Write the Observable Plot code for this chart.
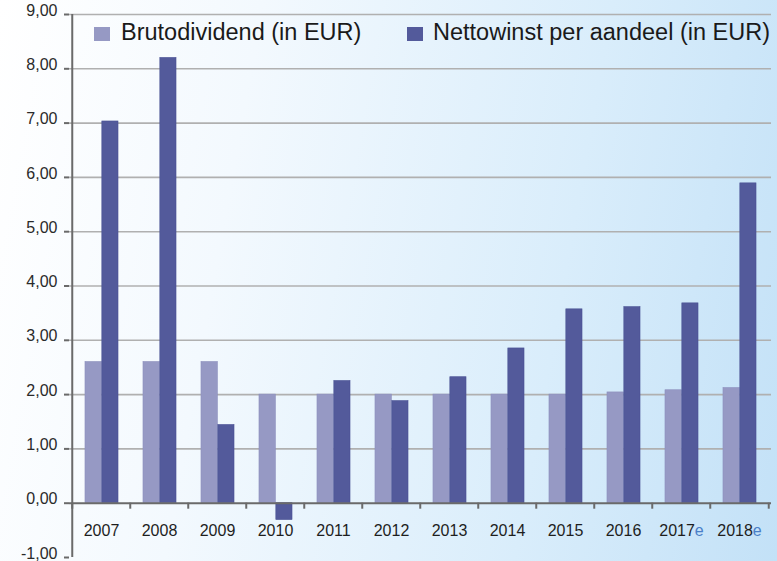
<!DOCTYPE html>
<html>
<head>
<meta charset="utf-8">
<script src="https://cdn.jsdelivr.net/npm/d3@7"></script>
<script src="https://cdn.jsdelivr.net/npm/@observablehq/plot@0.6"></script>
<style>
  html, body { margin: 0; padding: 0; }
  #wrap {
    position: relative; width: 777px; height: 561px; overflow: hidden;
    background: linear-gradient(100deg, #ffffff 0%, #f3f9fe 30%, #d9edfb 70%, #c3e1f7 100%);
    font-family: "Liberation Sans", Arial, sans-serif;
  }
  .leg { position: absolute; font-size: 23.5px; line-height: 23.5px; color: #1a1a1a; white-space: nowrap; }
  .sw { position: absolute; width: 16px; height: 14px; }
</style>
</head>
<body>
<div id="wrap"></div>
<script>
const years = ["2007","2008","2009","2010","2011","2012","2013","2014","2015","2016","2017e","2018e"];
const bruto = [2.60, 2.60, 2.60, 2.00, 2.00, 2.00, 2.00, 2.00, 2.00, 2.04, 2.08, 2.12];
const netto = [7.03, 8.20, 1.44, -0.31, 2.25, 1.88, 2.32, 2.85, 3.57, 3.61, 3.68, 5.89];
const seriesNames = ["Brutodividend (in EUR)", "Nettowinst per aandeel (in EUR)"];
const seriesColors = ["#9699c4", "#535a9b"];
const yTicks = [-1, 0, 1, 2, 3, 4, 5, 6, 7, 8, 9];

const W = 777, H = 561, mL = 69, mR = 6, mT = 14, mB = 4;
const bw = (W - mL - mR) / years.length;

const brutoRows = years.map((y, i) => ({year: y, value: bruto[i]}));
const nettoRows = years.map((y, i) => ({year: y, value: netto[i]}));
const fmt = d => d3.format(".2f")(d).replace(".", ",").replace("−", "-");

const chart = Plot.plot({
  width: W, height: H,
  marginLeft: mL, marginRight: mR, marginTop: mT, marginBottom: mB,
  style: {background: "transparent", fontFamily: "'Liberation Sans', Arial, sans-serif", overflow: "visible"},
  x: {domain: years, padding: 0, axis: null, label: null},
  y: {domain: [-1, 9], axis: null, label: null},
  marks: [
    Plot.gridY(yTicks.filter(d => d > 0), {stroke: "#b0b0b0", strokeOpacity: 1, strokeWidth: 1.6}),
    Plot.barY(brutoRows, {x: "year", y: "value", fill: seriesColors[0], stroke: "#8c8fbd", strokeWidth: 0.6,
      insetLeft: bw * 0.222, insetRight: bw * 0.49}),
    Plot.barY(nettoRows, {x: "year", y: "value", fill: seriesColors[1], stroke: "#4a5194", strokeWidth: 0.6,
      insetLeft: bw * 0.51, insetRight: bw * 0.205}),
    Plot.ruleY([0], {stroke: "#6a6a6a", strokeWidth: 2}),
    Plot.ruleX(years, {x: d => d, y1: 0, y2: 0, insetBottom: -6, dx: -bw / 2, stroke: "#6a6a6a", strokeWidth: 2}),
    Plot.ruleX([years[years.length - 1]], {x: d => d, y1: 0, y2: 0, insetBottom: -6, dx: bw / 2, stroke: "#6a6a6a", strokeWidth: 2}),
    Plot.ruleX([years[0]], {x: d => d, y1: -1, y2: 9, dx: -bw / 2, stroke: "#6a6a6a", strokeWidth: 2}),
    Plot.axisY(yTicks, {anchor: "left", label: null, tickSize: 5, tickPadding: 7, tickFormat: fmt,
      stroke: "#6a6a6a", strokeWidth: 2, fill: "#2a2a2a", fontSize: 16}),
    Plot.axisX({anchor: "bottom", label: null, tickSize: 0, tickPadding: 0, dy: -33, fill: "#1e1e1e", fontSize: 16})
  ]
});

// shift y tick labels slightly above their ticks, as in the original
const yLabelTexts = d3.select(chart).selectAll("text").filter(function() { return /^-?\d,\d\d$/.test(this.textContent); });
const yLabelGroups = new Set(yLabelTexts.nodes().map(n => n.parentNode));
yLabelGroups.forEach(g => {
  const t = g.getAttribute("transform") || "";
  g.setAttribute("transform", (t + " translate(0,-4)").trim());
});

// colour the estimate suffix "e" in blue
d3.select(chart).selectAll("text").each(function() {
  const t = this.textContent;
  if (/^\d{4}e$/.test(t)) {
    const sel = d3.select(this);
    sel.text(null);
    sel.append("tspan").text(t.slice(0, 4));
    sel.append("tspan").attr("fill", "#4a7fc8").text("e");
  }
});

const wrap = document.getElementById("wrap");
wrap.appendChild(chart);

// legend overlay
const legendPos = [{sx: 94, tx: 121}, {sx: 407, tx: 433}];
seriesNames.forEach((name, i) => {
  const sw = document.createElement("div");
  sw.className = "sw";
  sw.style.left = legendPos[i].sx + "px";
  sw.style.top = "27px";
  sw.style.background = seriesColors[i];
  wrap.appendChild(sw);
  const lab = document.createElement("div");
  lab.className = "leg";
  lab.style.left = legendPos[i].tx + "px";
  lab.style.top = "21px";
  lab.textContent = name;
  wrap.appendChild(lab);
});
</script>
</body>
</html>
